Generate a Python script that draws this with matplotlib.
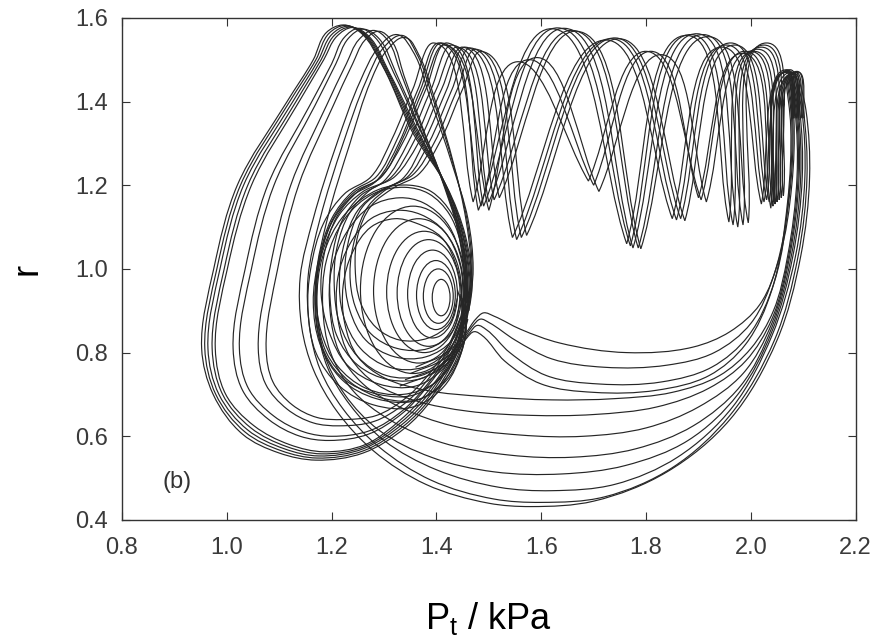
import numpy as np
import matplotlib
matplotlib.use("Agg")
import matplotlib.pyplot as plt
from matplotlib.path import Path
from matplotlib.patches import PathPatch, Ellipse

plt.rcParams["font.family"] = ["Liberation Sans", "DejaVu Sans"]
plt.rcParams["mathtext.default"] = "regular"

# ---- axes ----
x_ticks = [0.8, 1.0, 1.2, 1.4, 1.6, 1.8, 2.0, 2.2]
x_labels = ["0.8", "1.0", "1.2", "1.4", "1.6", "1.8", "2.0", "2.2"]
y_ticks = [0.4, 0.6, 0.8, 1.0, 1.2, 1.4, 1.6]
y_labels = ["0.4", "0.6", "0.8", "1.0", "1.2", "1.4", "1.6"]

# ---- small loops around the focus: left, right, top, bottom (P, r) ----
spiral_left = [1.392, 1.375, 1.362, 1.345, 1.325, 1.305, 1.28, 1.255]
spiral_right = [1.426, 1.432, 1.436, 1.44, 1.445, 1.448, 1.452, 1.456]
spiral_top = [0.975, 1.00, 1.02, 1.045, 1.07, 1.09, 1.12, 1.15]
spiral_bottom = [0.888, 0.87, 0.855, 0.835, 0.815, 0.80, 0.775, 0.75]

# ---- large loops (peak near P=1.22-1.29, swing to the left) ----
big_1 = [(1.455, 0.86), (1.468, 0.96), (1.455, 1.08), (1.42, 1.196), (1.355, 1.325), (1.298, 1.483),
         (1.255, 1.565), (1.222, 1.583), (1.19, 1.565), (1.165, 1.50), (1.115, 1.40), (1.02, 1.20),
         (0.975, 1.0), (0.952, 0.81), (0.974, 0.70), (1.03, 0.605), (1.10, 0.56), (1.17, 0.543),
         (1.26, 0.56), (1.34, 0.62), (1.39, 0.686), (1.44, 0.79), (1.46, 0.88)]
big_2 = [(1.455, 0.865), (1.466, 0.96), (1.453, 1.08), (1.418, 1.20), (1.356, 1.33), (1.30, 1.48),
         (1.259, 1.563), (1.226, 1.582), (1.195, 1.563), (1.17, 1.50), (1.12, 1.40), (1.026, 1.20),
         (0.981, 1.0), (0.958, 0.81), (0.979, 0.70), (1.035, 0.61), (1.105, 0.565), (1.172, 0.548),
         (1.26, 0.565), (1.338, 0.625), (1.388, 0.69), (1.438, 0.795), (1.458, 0.88)]
big_3 = [(1.454, 0.87), (1.464, 0.96), (1.451, 1.08), (1.416, 1.205), (1.357, 1.335), (1.303, 1.478),
         (1.263, 1.56), (1.23, 1.58), (1.20, 1.56), (1.175, 1.50), (1.126, 1.40), (1.032, 1.20),
         (0.987, 1.0), (0.964, 0.81), (0.985, 0.70), (1.04, 0.615), (1.11, 0.57), (1.175, 0.553),
         (1.26, 0.57), (1.336, 0.63), (1.386, 0.695), (1.436, 0.80), (1.456, 0.88)]
big_4 = [(1.452, 0.87), (1.462, 0.96), (1.449, 1.085), (1.414, 1.21), (1.358, 1.34), (1.306, 1.475),
         (1.267, 1.558), (1.235, 1.578), (1.205, 1.558), (1.18, 1.50), (1.132, 1.40), (1.04, 1.20),
         (0.995, 1.0), (0.972, 0.81), (0.992, 0.70), (1.046, 0.62), (1.115, 0.575), (1.18, 0.558),
         (1.262, 0.575), (1.334, 0.635), (1.384, 0.70), (1.434, 0.80), (1.454, 0.88)]
big_5 = [(1.451, 0.87), (1.46, 0.96), (1.447, 1.085), (1.412, 1.21), (1.359, 1.345), (1.309, 1.472),
         (1.271, 1.556), (1.24, 1.577), (1.21, 1.556), (1.185, 1.50), (1.138, 1.40), (1.047, 1.20),
         (1.001, 1.0), (0.978, 0.81), (0.998, 0.70), (1.052, 0.625), (1.12, 0.58), (1.185, 0.563),
         (1.264, 0.58), (1.332, 0.64), (1.382, 0.705), (1.432, 0.80), (1.452, 0.88)]
big_6 = [(1.45, 0.87), (1.458, 0.96), (1.445, 1.09), (1.41, 1.22), (1.362, 1.35), (1.318, 1.47),
         (1.283, 1.553), (1.252, 1.575), (1.224, 1.553), (1.20, 1.49), (1.158, 1.39), (1.078, 1.20),
         (1.035, 1.0), (1.012, 0.81), (1.03, 0.71), (1.08, 0.64), (1.14, 0.60), (1.195, 0.59),
         (1.27, 0.605), (1.335, 0.655), (1.38, 0.715), (1.43, 0.805), (1.45, 0.88)]
big_7 = [(1.449, 0.87), (1.457, 0.96), (1.444, 1.09), (1.409, 1.22), (1.364, 1.35), (1.323, 1.468),
         (1.29, 1.551), (1.26, 1.573), (1.232, 1.551), (1.208, 1.49), (1.168, 1.39), (1.09, 1.20),
         (1.047, 1.0), (1.024, 0.81), (1.041, 0.715), (1.09, 0.648), (1.148, 0.61), (1.20, 0.60),
         (1.274, 0.614), (1.336, 0.662), (1.38, 0.72), (1.428, 0.81), (1.449, 0.88)]
big_8 = [(1.448, 0.875), (1.455, 0.96), (1.442, 1.09), (1.408, 1.225), (1.368, 1.35), (1.333, 1.465),
         (1.306, 1.548), (1.28, 1.57), (1.252, 1.548), (1.228, 1.49), (1.19, 1.39), (1.122, 1.20),
         (1.082, 1.0), (1.06, 0.81), (1.074, 0.725), (1.115, 0.665), (1.165, 0.632), (1.215, 0.625),
         (1.282, 0.636), (1.338, 0.677), (1.38, 0.73), (1.425, 0.815), (1.447, 0.885)]
big_9 = [(1.447, 0.875), (1.454, 0.96), (1.441, 1.09), (1.407, 1.225), (1.37, 1.35), (1.338, 1.462),
         (1.314, 1.546), (1.29, 1.568), (1.263, 1.546), (1.24, 1.49), (1.203, 1.39), (1.137, 1.20),
         (1.097, 1.0), (1.075, 0.81), (1.088, 0.73), (1.125, 0.675), (1.172, 0.645), (1.222, 0.64),
         (1.286, 0.65), (1.34, 0.69), (1.38, 0.74), (1.424, 0.82), (1.446, 0.885)]

# ---- escapes along the bottom, up the right edge ----
low_1 = [(1.462, 0.90), (1.47, 1.0), (1.46, 1.12), (1.43, 1.25), (1.39, 1.40), (1.355, 1.52), (1.325, 1.56),
         (1.29, 1.53), (1.255, 1.45), (1.21, 1.30), (1.165, 1.12), (1.14, 0.98), (1.143, 0.86), (1.165, 0.76),
         (1.21, 0.66), (1.28, 0.565), (1.38, 0.485), (1.50, 0.44), (1.58, 0.432), (1.70, 0.445),
         (1.84, 0.515), (1.96, 0.64), (2.05, 0.83), (2.095, 1.03), (2.112, 1.22), (2.105, 1.38), (2.088, 1.472)]
low_2 = [(1.46, 0.90), (1.468, 1.0), (1.458, 1.12), (1.432, 1.25), (1.395, 1.40), (1.362, 1.515), (1.335, 1.558),
         (1.30, 1.53), (1.266, 1.45), (1.222, 1.30), (1.178, 1.12), (1.155, 0.98), (1.158, 0.86), (1.178, 0.76),
         (1.222, 0.665), (1.29, 0.575), (1.39, 0.495), (1.51, 0.45), (1.60, 0.442), (1.72, 0.455),
         (1.85, 0.525), (1.96, 0.65), (2.045, 0.83), (2.09, 1.03), (2.107, 1.22), (2.10, 1.38), (2.085, 1.468)]
low_3 = [(1.458, 0.90), (1.466, 1.0), (1.456, 1.12), (1.433, 1.25), (1.398, 1.40), (1.367, 1.51), (1.34, 1.553),
         (1.307, 1.525), (1.275, 1.45), (1.235, 1.30), (1.192, 1.12), (1.17, 0.98), (1.173, 0.86), (1.192, 0.765),
         (1.235, 0.675), (1.30, 0.59), (1.40, 0.52), (1.52, 0.478), (1.62, 0.47), (1.74, 0.485),
         (1.86, 0.55), (1.965, 0.67), (2.04, 0.84), (2.085, 1.03), (2.103, 1.22), (2.097, 1.38), (2.082, 1.465)]
low_4 = [(1.46, 0.92), (1.455, 1.03), (1.43, 1.13), (1.39, 1.185),
         (1.35, 1.20), (1.29, 1.19), (1.225, 1.13), (1.183, 1.03), (1.172, 0.92), (1.185, 0.80), (1.225, 0.70),
         (1.29, 0.615), (1.39, 0.55), (1.51, 0.515), (1.64, 0.51), (1.76, 0.53), (1.88, 0.59), (1.975, 0.70),
         (2.04, 0.85), (2.08, 1.03), (2.098, 1.22), (2.093, 1.38), (2.08, 1.462)]
low_5 = [(1.458, 0.92), (1.452, 1.03), (1.425, 1.13), (1.385, 1.18),
         (1.34, 1.195), (1.28, 1.18), (1.225, 1.12), (1.19, 1.02), (1.183, 0.91), (1.198, 0.80), (1.24, 0.71),
         (1.31, 0.64), (1.41, 0.585), (1.54, 0.555), (1.66, 0.55), (1.78, 0.57), (1.89, 0.625), (1.98, 0.72),
         (2.04, 0.86), (2.077, 1.03), (2.095, 1.22), (2.09, 1.38), (2.078, 1.46)]
low_6 = [(1.455, 0.92), (1.448, 1.02), (1.42, 1.11), (1.375, 1.158),
         (1.33, 1.17), (1.275, 1.15), (1.23, 1.09), (1.20, 1.0), (1.197, 0.90), (1.215, 0.80), (1.26, 0.725),
         (1.33, 0.67), (1.43, 0.625), (1.56, 0.603), (1.68, 0.60), (1.80, 0.62), (1.90, 0.67), (1.985, 0.75),
         (2.04, 0.87), (2.074, 1.03), (2.092, 1.22), (2.088, 1.38), (2.076, 1.46)]
low_7 = [(1.452, 0.92), (1.445, 1.01), (1.415, 1.09), (1.37, 1.13),
         (1.325, 1.14), (1.275, 1.12), (1.235, 1.06), (1.212, 0.98), (1.212, 0.88), (1.235, 0.79), (1.285, 0.725),
         (1.36, 0.685), (1.46, 0.66), (1.58, 0.65), (1.70, 0.652), (1.82, 0.67), (1.92, 0.715), (1.99, 0.78),
         (2.04, 0.88), (2.072, 1.03), (2.09, 1.22), (2.086, 1.38), (2.074, 1.462)]
low_8 = [(1.45, 0.92), (1.44, 1.0), (1.41, 1.075), (1.36, 1.11),
         (1.32, 1.12), (1.275, 1.10), (1.24, 1.04), (1.222, 0.96), (1.225, 0.87), (1.25, 0.79), (1.30, 0.74),
         (1.38, 0.71), (1.49, 0.695), (1.62, 0.687), (1.74, 0.69), (1.85, 0.705), (1.94, 0.745), (2.0, 0.81),
         (2.043, 0.90), (2.07, 1.03), (2.088, 1.22), (2.084, 1.38), (2.072, 1.46)]

# ---- escapes over the small bump near P=1.49 ----
bump_1 = [(1.36, 0.765), (1.42, 0.80), (1.455, 0.845), (1.475, 0.88), (1.49, 0.895), (1.51, 0.887), (1.56, 0.856),
          (1.635, 0.823), (1.763, 0.80), (1.889, 0.813), (1.96, 0.85), (2.017, 0.915), (2.055, 1.03),
          (2.078, 1.20), (2.082, 1.36), (2.072, 1.465)]
bump_2 = [(1.35, 0.75), (1.415, 0.785), (1.45, 0.83), (1.47, 0.865), (1.484, 0.88), (1.50, 0.872), (1.55, 0.83),
          (1.62, 0.785), (1.72, 0.765), (1.84, 0.77), (1.93, 0.80), (2.0, 0.87), (2.045, 0.99),
          (2.074, 1.18), (2.08, 1.35), (2.07, 1.462)]
bump_3 = [(1.34, 0.735), (1.41, 0.77), (1.445, 0.815), (1.465, 0.85), (1.478, 0.865), (1.495, 0.855), (1.54, 0.80),
          (1.61, 0.745), (1.71, 0.725), (1.83, 0.73), (1.925, 0.765), (1.995, 0.84), (2.045, 0.97),
          (2.072, 1.17), (2.078, 1.35), (2.068, 1.46)]
bump_4 = [(1.33, 0.72), (1.40, 0.755), (1.44, 0.80), (1.458, 0.835), (1.472, 0.85), (1.488, 0.84), (1.53, 0.78),
          (1.60, 0.725), (1.70, 0.705), (1.82, 0.71), (1.92, 0.745), (1.99, 0.82), (2.04, 0.95),
          (2.07, 1.16), (2.076, 1.34), (2.066, 1.458)]

# ---- oscillations along the top (peaks / troughs), moving left, then back down round the focus ----
top_x1 = [(2.10, 1.36), (2.088, 1.472), (2.058, 1.17), (2.025, 1.535), (1.985, 1.105), (1.91, 1.56),
          (1.785, 1.05), (1.66, 1.57), (1.51, 1.165), (1.44, 1.53),
          (1.40, 1.43), (1.355, 1.30), (1.31, 1.215), (1.26, 1.185), (1.215, 1.13), (1.18, 1.03), (1.168, 0.93),
          (1.18, 0.82), (1.22, 0.74), (1.29, 0.70), (1.36, 0.70), (1.42, 0.76), (1.45, 0.85), (1.45, 0.92)]
top_x2 = [(2.097, 1.36), (2.085, 1.47), (2.054, 1.165), (2.02, 1.53), (1.975, 1.10), (1.898, 1.562),
          (1.775, 1.05), (1.645, 1.575), (1.50, 1.16), (1.43, 1.535),
          (1.39, 1.43), (1.345, 1.30), (1.30, 1.21), (1.255, 1.175), (1.22, 1.115), (1.20, 1.02), (1.197, 0.93),
          (1.21, 0.84), (1.25, 0.77), (1.31, 0.735), (1.375, 0.74), (1.425, 0.79), (1.45, 0.865), (1.45, 0.93)]
top_x3 = [(2.094, 1.36), (2.082, 1.468), (2.05, 1.16), (2.013, 1.525), (1.966, 1.105), (1.886, 1.56),
          (1.77, 1.055), (1.632, 1.576), (1.49, 1.15), (1.42, 1.54),
          (1.38, 1.43), (1.335, 1.30), (1.29, 1.215), (1.245, 1.185), (1.205, 1.125), (1.178, 1.03), (1.17, 0.94),
          (1.18, 0.85), (1.21, 0.77), (1.265, 0.715), (1.335, 0.70), (1.40, 0.73), (1.44, 0.80), (1.455, 0.89)]
top_x4 = [(2.092, 1.355), (2.08, 1.465), (2.046, 1.155), (2.006, 1.52), (1.958, 1.112), (1.878, 1.558),
          (1.763, 1.06), (1.62, 1.574), (1.48, 1.14), (1.41, 1.54),
          (1.37, 1.43), (1.328, 1.30), (1.285, 1.21), (1.24, 1.175), (1.20, 1.11), (1.175, 1.0), (1.172, 0.90),
          (1.19, 0.80), (1.235, 0.73), (1.30, 0.69), (1.37, 0.69), (1.425, 0.75), (1.455, 0.84), (1.455, 0.93)]
top_x5 = [(2.102, 1.36), (2.09, 1.47), (2.062, 1.175), (2.03, 1.54), (1.995, 1.11), (1.92, 1.555),
          (1.79, 1.048), (1.668, 1.568), (1.52, 1.17), (1.45, 1.53),
          (1.41, 1.43), (1.365, 1.30), (1.32, 1.22), (1.275, 1.19), (1.235, 1.135), (1.21, 1.05), (1.205, 0.96),
          (1.215, 0.87), (1.25, 0.79), (1.305, 0.745), (1.37, 0.745), (1.42, 0.785), (1.448, 0.855), (1.448, 0.925)]
top_y1 = [(2.087, 1.36), (2.075, 1.476), (2.025, 1.16), (1.954, 1.535), (1.858, 1.117), (1.735, 1.55),
          (1.553, 1.07), (1.465, 1.528),
          (1.43, 1.43), (1.385, 1.30), (1.345, 1.22), (1.30, 1.19), (1.26, 1.15), (1.235, 1.08), (1.225, 0.99),
          (1.235, 0.90), (1.265, 0.83), (1.32, 0.79), (1.38, 0.79), (1.43, 0.83), (1.45, 0.90), (1.44, 0.95)]
top_y2 = [(2.084, 1.36), (2.072, 1.474), (2.03, 1.165), (1.962, 1.54), (1.866, 1.12), (1.742, 1.552),
          (1.562, 1.075), (1.475, 1.525),
          (1.44, 1.43), (1.395, 1.30), (1.355, 1.225), (1.31, 1.195), (1.27, 1.15), (1.245, 1.075), (1.235, 0.99),
          (1.245, 0.91), (1.275, 0.845), (1.325, 0.81), (1.385, 0.81), (1.43, 0.85), (1.445, 0.92)]
top_y3 = [(2.09, 1.36), (2.078, 1.47), (2.035, 1.16), (1.97, 1.535), (1.874, 1.115), (1.75, 1.55),
          (1.572, 1.08), (1.485, 1.52),
          (1.45, 1.43), (1.405, 1.30), (1.365, 1.225), (1.32, 1.195), (1.275, 1.15), (1.25, 1.08), (1.245, 1.0),
          (1.255, 0.92), (1.285, 0.86), (1.33, 0.83), (1.385, 0.835), (1.425, 0.87), (1.44, 0.93)]
top_y4 = [(2.081, 1.36), (2.069, 1.47), (2.02, 1.155), (1.945, 1.53), (1.85, 1.12), (1.725, 1.547),
          (1.545, 1.075), (1.455, 1.53),
          (1.42, 1.43), (1.375, 1.30), (1.335, 1.215), (1.29, 1.185), (1.25, 1.14), (1.225, 1.065), (1.215, 0.98),
          (1.222, 0.89), (1.255, 0.81), (1.31, 0.765), (1.375, 0.765), (1.425, 0.81), (1.45, 0.88), (1.445, 0.94)]
top_z1 = [(2.08, 1.36), (2.068, 1.476), (2.042, 1.15), (1.99, 1.52), (1.905, 1.165), (1.80, 1.52),
          (1.69, 1.21), (1.553, 1.495), (1.47, 1.16), (1.395, 1.54),
          (1.355, 1.43), (1.315, 1.31), (1.275, 1.22), (1.225, 1.18), (1.185, 1.11), (1.16, 1.0), (1.155, 0.90),
          (1.17, 0.80), (1.215, 0.72), (1.28, 0.675), (1.355, 0.67), (1.415, 0.72), (1.45, 0.81), (1.46, 0.91)]
top_z2 = [(2.082, 1.36), (2.07, 1.472), (2.038, 1.145), (1.985, 1.515), (1.90, 1.17), (1.81, 1.52),
          (1.70, 1.20), (1.575, 1.50), (1.485, 1.15), (1.405, 1.54),
          (1.365, 1.43), (1.325, 1.31), (1.285, 1.22), (1.24, 1.185), (1.20, 1.12), (1.175, 1.02), (1.165, 0.92),
          (1.178, 0.82), (1.22, 0.735), (1.285, 0.69), (1.36, 0.685), (1.42, 0.735), (1.452, 0.82), (1.458, 0.91)]
top_z3 = [(2.078, 1.36), (2.066, 1.47), (2.044, 1.16), (2.0, 1.52), (1.915, 1.16), (1.83, 1.512),
          (1.71, 1.185), (1.59, 1.505), (1.50, 1.14), (1.415, 1.535),
          (1.375, 1.43), (1.335, 1.31), (1.295, 1.22), (1.25, 1.185), (1.21, 1.125), (1.185, 1.03), (1.18, 0.94),
          (1.195, 0.85), (1.23, 0.77), (1.29, 0.725), (1.36, 0.72), (1.415, 0.765), (1.445, 0.84), (1.45, 0.92)]

# ---- drawing ----
LINE = "#262626"
LW = 0.85
SX, SY = 524.3, 418.3   # pixels per data unit, used only to shape the curve tangents


def add_curve(ax, pts, waves=False):
    q = np.asarray(pts, float) * [SX, SY]
    r = [p[1] for p in pts]
    seg = np.diff(q, axis=0)
    seglen = np.hypot(seg[:, 0], seg[:, 1])
    unit = seg / seglen[:, None]
    n = len(q)
    t_in = np.empty_like(q)
    t_out = np.empty_like(q)
    k = np.full(n, 1 / 3.0)
    t_in[0] = t_out[0] = unit[0]
    t_in[-1] = t_out[-1] = unit[-1]
    for i in range(1, n - 1):
        b = unit[i - 1] + unit[i]
        b = b / np.hypot(*b)
        t_in[i] = t_out[i] = b
        if waves and r[i] > 1.0 and r[i] < r[i - 1] and r[i] < r[i + 1]:
            # pointed trough
            t_in[i], t_out[i] = unit[i - 1], unit[i]
        elif waves and r[i] > 1.4 and r[i] > r[i - 1] and r[i] > r[i + 1]:
            # tighter rounded crest
            k[i] = 0.2
    verts = [q[0]]
    for i in range(n - 1):
        verts += [q[i] + t_out[i] * seglen[i] * k[i],
                  q[i + 1] - t_in[i + 1] * seglen[i] * k[i + 1],
                  q[i + 1]]
    verts = np.array(verts) / [SX, SY]
    codes = [Path.MOVETO] + [Path.CURVE4] * (len(verts) - 1)
    ax.add_patch(PathPatch(Path(verts, codes), fill=False, ec=LINE, lw=LW))


fig = plt.figure(figsize=(8.84, 6.38), dpi=100)
ax = fig.add_axes([0.138, 0.185, 0.830, 0.787])

for L, R, T, B in zip(spiral_left, spiral_right, spiral_top, spiral_bottom):
    ax.add_patch(Ellipse(((L + R) / 2, (T + B) / 2), R - L, T - B, fill=False, ec=LINE, lw=LW))

for pts in (big_1, big_2, big_3, big_4, big_5, big_6, big_7, big_8, big_9,
            low_1, low_2, low_3, low_4, low_5, low_6, low_7, low_8,
            bump_1, bump_2, bump_3, bump_4):
    add_curve(ax, pts)

for pts in (top_x1, top_x2, top_x3, top_x4, top_x5,
            top_y1, top_y2, top_y3, top_y4,
            top_z1, top_z2, top_z3):
    add_curve(ax, pts, waves=True)

ax.set_xlim(0.8, 2.2)
ax.set_ylim(0.4, 1.6)
ax.set_xticks(x_ticks)
ax.set_xticklabels(x_labels)
ax.set_yticks(y_ticks)
ax.set_yticklabels(y_labels)
ax.tick_params(direction="in", length=6, width=0.8, top=True, right=True,
               labelsize=17, labelcolor="#3a3a3a", color="#333333")
ax.tick_params(axis="x", pad=12)
ax.tick_params(axis="y", pad=10)
for s in ax.spines.values():
    s.set_color("#333333")
    s.set_linewidth(1.0)

ax.text(0.878, 0.49, "(b)", fontsize=17, color="#333333", va="center")

ax.set_xlabel(r"P$_t$ / kPa", fontsize=26, labelpad=30)
ax.set_ylabel("r", fontsize=26, labelpad=22)

fig.savefig("out.png", dpi=100)
